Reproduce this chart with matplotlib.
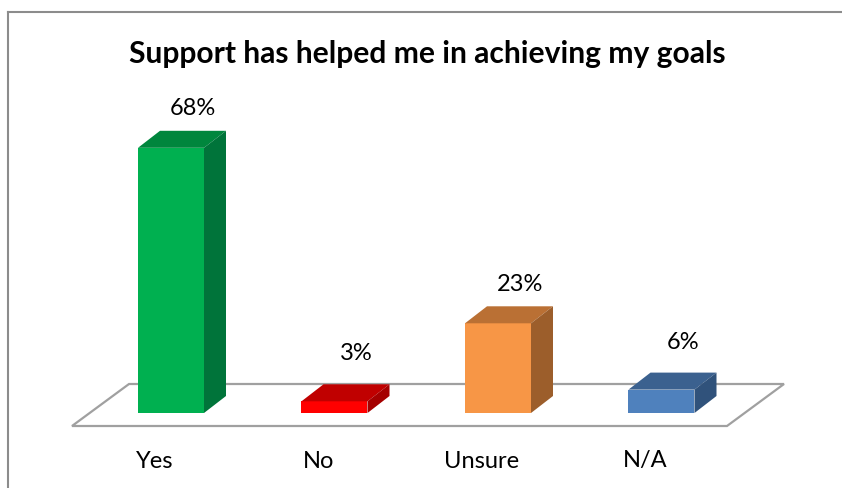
import matplotlib
matplotlib.use("Agg")
import matplotlib.pyplot as plt
from matplotlib.patches import Polygon
from matplotlib.lines import Line2D

# ---- data ----
categories = ["Yes", "No", "Unsure", "N/A"]
values = [68, 3, 23, 6]
value_labels = ["68%", "3%", "23%", "6%"]
title = "Support has helped me in achieving my goals"

front_colors = ["#00B050", "#FF0000", "#F79646", "#4F81BD"]
top_colors = ["#00863D", "#C00000", "#BA7034", "#3B618F"]
side_colors = ["#00743A", "#A50000", "#9C5E2B", "#30527B"]

# ---- layout (pixel based) ----
W_PX, H_PX = 842, 488
DPI = 100
CAT_PX = 163.5          # px per category
X0_PX = 171             # px of first bar centre
BASE_PX = 413           # px (from top) of value 0
PCT_PX = 3.9            # px per percent

def xpx(p):
    return (p - X0_PX) / CAT_PX

def ypx(p):
    return (BASE_PX - p) / PCT_PX

fig = plt.figure(figsize=(W_PX / DPI, H_PX / DPI), dpi=DPI)
ax = fig.add_axes([0, 0, 1, 1])
ax.set_xlim(xpx(0), xpx(W_PX))
ax.set_ylim(ypx(H_PX), ypx(0))
ax.axis("off")

bar_w = 66 / CAT_PX
dx = 22 / CAT_PX
dy = 17 / PCT_PX

# floor
fl_front = ypx(426)
fl_back = ypx(384)
fl_l = xpx(72)
fl_r = xpx(727)
fl_dx = 57 / CAT_PX
floor = Polygon([(fl_l, fl_front), (fl_r, fl_front), (fl_r + fl_dx, fl_back),
                 (fl_l + fl_dx, fl_back)], closed=True, facecolor="white",
                edgecolor="#A0A0A0", linewidth=1.6, zorder=1)
ax.add_patch(floor)

xs = list(range(len(categories)))
ax.bar(xs, values, width=bar_w, color=front_colors, zorder=3, linewidth=0)
for x, v, tc, sc, lab, cat in zip(xs, values, top_colors, side_colors,
                                   value_labels, categories):
    l, r = x - bar_w / 2, x + bar_w / 2
    ax.add_patch(Polygon([(l, v), (r, v), (r + dx, v + dy), (l + dx, v + dy)],
                         closed=True, facecolor=tc, edgecolor="none", zorder=3))
    ax.add_patch(Polygon([(r, 0), (r + dx, dy), (r + dx, v + dy), (r, v)],
                         closed=True, facecolor=sc, edgecolor="none", zorder=3))
    off = 9.7 if v >= 10 else 11.9
    ax.text(x + dx, v + off + 0.3, lab, ha="center", va="center",
            fontsize=17, family="Lato", color="#000000")
    ax.text(x - 16 / CAT_PX, ypx(461), cat, ha="center", va="center",
            fontsize=17, family="Lato", color="#000000")

fig.text(427 / W_PX, 1 - 63 / H_PX, title, ha="center", va="baseline",
         fontsize=21.6, fontweight="bold", family="Lato", color="#000000")

# chart border (top and left visible)
bx = 8 / W_PX
by = 1 - 12 / H_PX
fig.add_artist(Line2D([bx, bx], [0, by], transform=fig.transFigure,
                      color="#8C8C8C", linewidth=1.5))
fig.add_artist(Line2D([bx, 1], [by, by], transform=fig.transFigure,
                      color="#8C8C8C", linewidth=1.5))

fig.savefig("out.png", dpi=DPI)
